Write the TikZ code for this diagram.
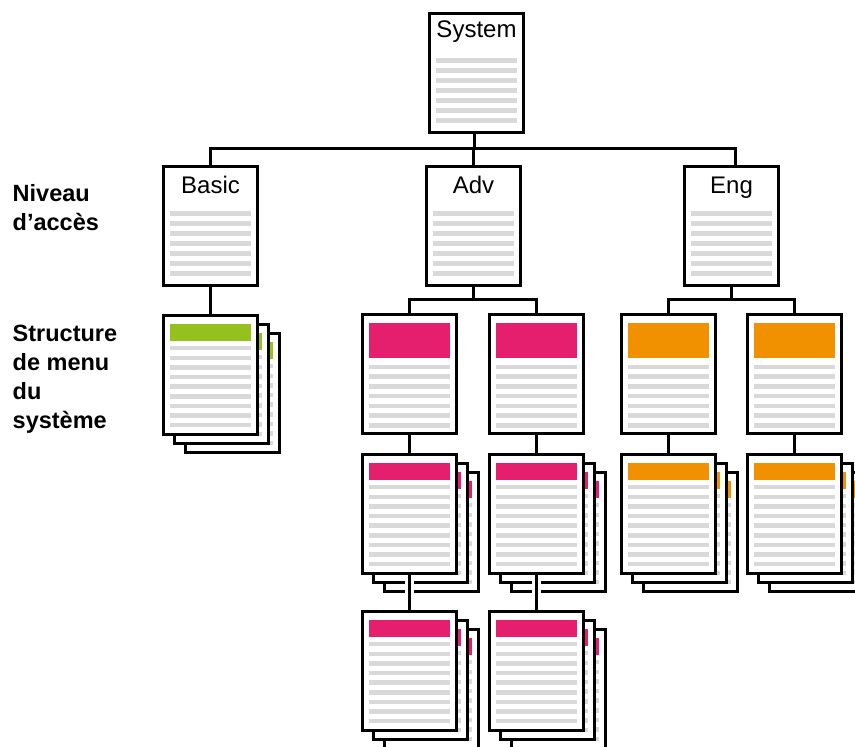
\documentclass[tikz,border=0pt]{standalone}
\usepackage{fontspec}
\setmainfont{Liberation Sans}
\definecolor{menugreen}{HTML}{95C11F}
\definecolor{menupink}{HTML}{E61E6E}
\definecolor{menuorange}{HTML}{F29100}
\definecolor{rulegray}{HTML}{D9D9D9}

% a page with a title (baseline #4 below the top) and seven text rules
\newcommand\titledpage[4]{%
  \node[page] (#1) at (#2) {};
  \foreach \k in {0,...,6}{\draw[gline] ([xshift=8pt,yshift={-\k*10pt-48.5pt}]#1.north west) -- ++(81,0);}
  \node[ttl] (#1-t) at ([yshift=-#4pt]#1.north) {#3};
}
% a page with a tall coloured header and seven text rules
\newcommand\barpage[3]{%
  \node[page] (#1) at (#2) {};
  \fill[#3] ([xshift=8pt,yshift=-10pt]#1.north west) rectangle ++(81,35);
  \foreach \k in {0,...,6}{\draw[gline] ([xshift=8pt,yshift={-\k*9.72pt-54pt}]#1.north west) -- ++(81,0);}
}
% one sheet of a menu stack: thin coloured header, nine rules
\newcommand\sheet[3]{%
  \node[page] (#1) at (#2) {};
  \fill[#3] ([xshift=8pt,yshift=-9.5pt]#1.north west) rectangle ++(81,17);
  \foreach \k in {0,...,8}{\draw[gline] ([xshift=8pt,yshift={-\k*9.63pt-34.2pt}]#1.north west) -- ++(81,0);}
}
% three sheets, back to front; the front one is named #1
\newcommand\menustack[4]{%
  \sheet{#1-c}{#2+22,#3+18}{#4}
  \sheet{#1-b}{#2+11,#3+9}{#4}
  \sheet{#1}{#2,#3}{#4}
}

\begin{document}
\begin{tikzpicture}[x=1pt,y=-1pt,
  page/.style={draw=black, line width=3pt, fill=white, minimum width=94pt,
    minimum height=119pt, inner sep=0pt, anchor=north west},
  gline/.style={draw=rulegray, line width=4.5pt},
  ttl/.style={anchor=base, inner sep=0pt, font=\fontsize{24}{28}\selectfont},
  wire/.style={draw=black, line width=3pt},
  halo/.style={draw=white, line width=9pt},
  lbl/.style={anchor=base west, inner sep=0pt, align=left,
    font=\bfseries\fontsize{23.5}{29}\selectfont}]
\useasboundingbox (0,0) rectangle (855,747);
\clip (0,0) rectangle (855,747);

% side labels (anchored on the baseline of their last line)
\node[lbl] (lvl) at (12.5,230.5) {Niveau\\d’accès};
\node[lbl] (menu) at (12.5,428.5) {Structure\\de menu\\du\\système};

% top of the tree
\titledpage{sys}{428,12}{System}{25.5}
\titledpage{basic}{162,165}{Basic}{28}
\titledpage{adv}{425,165}{Adv}{28}
\titledpage{eng}{683,165}{Eng}{28}

% first menu level
\menustack{bs}{162}{314}{menugreen}
\barpage{a1}{361,313}{menupink}
\barpage{a2}{488,313}{menupink}
\barpage{e1}{620,313}{menuorange}
\barpage{e2}{746,313}{menuorange}

% second menu level
\menustack{a1s}{361}{453}{menupink}
\menustack{a2s}{488}{453}{menupink}
\menustack{e1s}{620}{453}{menuorange}
\menustack{e2s}{746}{453}{menuorange}

% third menu level
\menustack{a1t}{361}{610}{menupink}
\menustack{a2t}{488}{610}{menupink}

% connectors
\coordinate (bus1) at (0,148.5);
\coordinate (bus2) at (0,299);
\draw[wire] ([xshift=-2pt]sys.south) -- ([xshift=-2pt]sys.south |- bus1);
\draw[wire] (basic.north) |- ([xshift=4pt]eng.north |- bus1) -- ([xshift=4pt]eng.north);
\draw[wire] (adv.north) -- (adv.north |- bus1);

\draw[wire] (basic.south) -- (bs.north);

\draw[wire] (adv.south) -- (adv.south |- bus2);
\draw[wire] (a1.north) |- (a2.north |- bus2) -- (a2.north);
\draw[wire] (eng.south) -- (eng.south |- bus2);
\draw[wire] (e1.north) |- (e2.north |- bus2) -- (e2.north);

\draw[wire] (a1.south) -- (a1s.north);
\draw[wire] (a2.south) -- (a2s.north);
\draw[wire] (e1.south) -- (e1s.north);
\draw[wire] (e2.south) -- (e2s.north);

\draw[halo] (a1s.south) -- (a1t.north);
\draw[halo] (a2s.south) -- (a2t.north);
\draw[wire] (a1s.south) -- (a1t.north);
\draw[wire] (a2s.south) -- (a2t.north);
\end{tikzpicture}
\end{document}
